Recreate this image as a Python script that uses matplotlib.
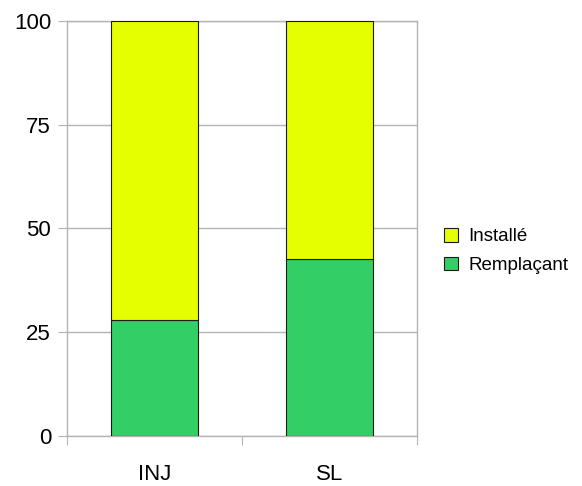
import matplotlib
matplotlib.use("Agg")
import matplotlib.pyplot as plt
from matplotlib.patches import Patch

plt.rcParams['font.family'] = ['Liberation Sans', 'DejaVu Sans']

categories = ["INJ", "SL"]
remplacant = [27.9, 42.6]
installe = [72.1, 57.4]
yticks = [0, 25, 50, 75, 100]

col_inst = "#E6FF00"
col_remp = "#34CE66"
grid_col = "#B3B3B3"
fs = 16
lfs = 13.5

fig = plt.figure(figsize=(5.82, 4.86), dpi=100)
ax = fig.add_axes([67/582, 50/486, 350/582, 415/486])

x = list(range(len(categories)))
ax.bar(x, remplacant, width=0.5, color=col_remp, edgecolor="#1a1a1a", linewidth=0.8, zorder=3)
ax.bar(x, installe, bottom=remplacant, width=0.5, color=col_inst, edgecolor="#1a1a1a", linewidth=0.8, zorder=3)

ax.set_xlim(-0.5, len(categories) - 0.5)
ax.set_ylim(0, 100)
ax.set_yticks(yticks)
ax.set_yticklabels([str(v) for v in yticks], fontsize=fs)
ax.yaxis.grid(True, color=grid_col, linewidth=1, zorder=0)
ax.set_xticks([i + 0.5 for i in range(-1, len(categories))], minor=False)
ax.set_xticklabels([])
ax.set_xticks(x, minor=True)
ax.set_xticklabels(categories, minor=True, fontsize=fs)
ax.tick_params(axis='x', which='major', length=6.5, color=grid_col, direction='out')
ax.tick_params(axis='x', which='minor', length=0, pad=20)
ax.tick_params(axis='y', length=6.5, color=grid_col, direction='out', pad=5)
for s in ax.spines.values():
    s.set_color(grid_col)
    s.set_linewidth(1)

handles = [Patch(facecolor=col_inst, edgecolor="#1a1a1a", linewidth=0.8),
           Patch(facecolor=col_remp, edgecolor="#1a1a1a", linewidth=0.8)]
fig.legend(handles, ["Installé", "Remplaçant"], loc="center left",
           bbox_to_anchor=(444/582, 1 - 251/486), frameon=False, fontsize=lfs,
           handlelength=0.75, handleheight=0.75, handletextpad=0.55, labelspacing=0.6,
           borderpad=0, borderaxespad=0)

fig.savefig("out.png", dpi=100)
